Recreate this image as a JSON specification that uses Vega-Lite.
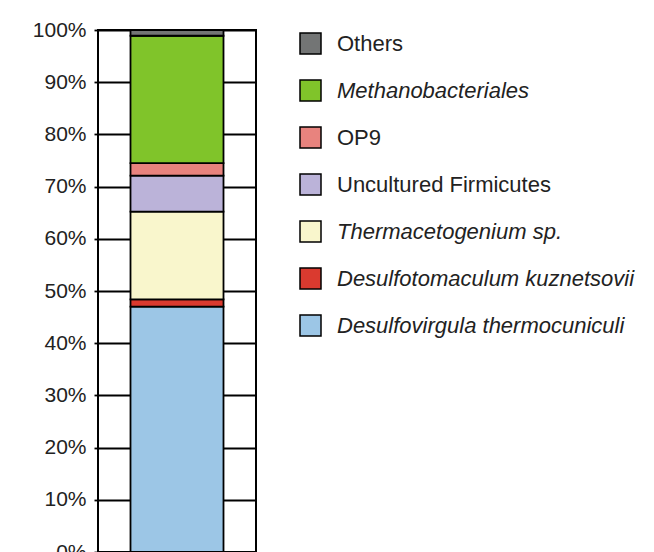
{
  "$schema": "https://vega.github.io/schema/vega-lite/v6.json",
  "width": 158,
  "height": 522,
  "autosize": {"type": "none"},
  "padding": {"left": 98, "top": 30, "right": 398, "bottom": 0},
  "background": "white",
  "data": {
    "values": [
      {"sample": "A", "taxon": "Desulfovirgula thermocuniculi", "share": 0.470, "rank": 1},
      {"sample": "A", "taxon": "Desulfotomaculum kuznetsovii", "share": 0.014, "rank": 2},
      {"sample": "A", "taxon": "Thermacetogenium sp.", "share": 0.168, "rank": 3},
      {"sample": "A", "taxon": "Uncultured Firmicutes", "share": 0.069, "rank": 4},
      {"sample": "A", "taxon": "OP9", "share": 0.024, "rank": 5},
      {"sample": "A", "taxon": "Methanobacteriales", "share": 0.244, "rank": 6},
      {"sample": "A", "taxon": "Others", "share": 0.011, "rank": 7}
    ]
  },
  "mark": {"type": "bar", "width": 93, "stroke": "black", "strokeWidth": 1.8},
  "encoding": {
    "x": {"field": "sample", "type": "nominal", "axis": null},
    "y": {
      "field": "share",
      "type": "quantitative",
      "stack": "zero",
      "scale": {"domain": [0, 1], "nice": false},
      "axis": {
        "title": null,
        "values": [0, 0.1, 0.2, 0.3, 0.4, 0.5, 0.6, 0.7, 0.8, 0.9, 1],
        "format": ".0%",
        "labelFont": "Liberation Sans",
        "labelFontSize": 21,
        "labelColor": "#222222",
        "tickColor": "black",
        "tickSize": 4,
        "tickWidth": 1.8,
        "labelPadding": 8,
        "domain": false,
        "grid": true,
        "gridColor": "black",
        "gridWidth": 1.8,
        "gridOpacity": 1
      }
    },
    "color": {
      "field": "taxon",
      "type": "nominal",
      "scale": {
        "domain": ["Others", "Methanobacteriales", "OP9", "Uncultured Firmicutes", "Thermacetogenium sp.", "Desulfotomaculum kuznetsovii", "Desulfovirgula thermocuniculi"],
        "range": ["#737575", "#80c42a", "#e8837e", "#bbb3d9", "#f9f6cc", "#da3a2f", "#9cc6e6"]
      },
      "legend": {
        "orient": "none",
        "legendX": 201,
        "legendY": 2,
        "title": null,
        "symbolType": "square",
        "symbolSize": 441,
        "symbolStrokeColor": "black",
        "symbolStrokeWidth": 1.5,
        "symbolOpacity": 1,
        "labelFont": "Liberation Sans",
        "labelFontSize": 22,
        "labelColor": "#222222",
        "labelOffset": 15,
        "labelLimit": 400,
        "rowPadding": 20,
        "labelExpr": "(datum.label == 'OP9' || datum.label == 'Uncultured Firmicutes') ? '\u00a0' + datum.label : datum.label",
        "encode": {
          "symbols": {
            "update": {
              "fill": {"signal": "datum.value == 'Others' ? '#808080' : datum.value == 'OP9' ? '#f0a0a0' : datum.value == 'Thermacetogenium sp.' ? '#ffff99' : datum.value == 'Desulfovirgula thermocuniculi' ? '#74c4ef' : datum.value == 'Methanobacteriales' ? '#80c42a' : datum.value == 'Uncultured Firmicutes' ? '#bbb3d9' : '#da3a2f'"},
              "stroke": {"value": "black"},
              "strokeWidth": {"value": 1.5}
            }
          },
          "labels": {
            "update": {
              "fontStyle": {"signal": "indexof(['Methanobacteriales','Thermacetogenium sp.','Desulfotomaculum kuznetsovii','Desulfovirgula thermocuniculi'], datum.value) >= 0 ? 'italic' : 'normal'"}
            }
          }
        }
      }
    },
    "order": {"field": "rank", "type": "quantitative"}
  },
  "config": {"view": {"stroke": "black", "strokeWidth": 2}}
}
